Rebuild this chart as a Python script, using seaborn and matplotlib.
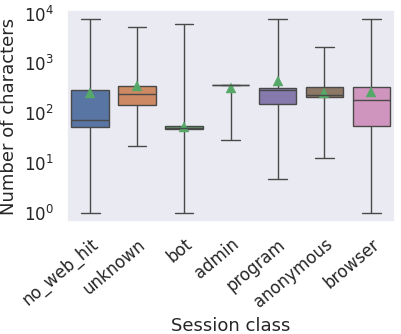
import matplotlib
matplotlib.use("Agg")
import matplotlib.pyplot as plt
import numpy as np
import pandas as pd
import seaborn as sns

# Box statistics (characters per session)
classes = ["no_web_hit", "unknown", "bot", "admin", "program", "anonymous", "browser"]
lowest = [1, 22, 1, 29, 4.9, 12.8, 1]
lower_q = [52, 144, 48, 375, 151, 208, 56]
medians = [74, 246, 51, 375, 293, 236, 185]
upper_q = [295, 350, 55, 375, 324, 340, 340]
highest = [7600, 5250, 6300, 375, 7600, 2150, 7600]
means = [257, 350, 54, 320, 445, 250, 262]

# five points per class -> quartiles land exactly on the read values
rows = []
for i, c in enumerate(classes):
    for v in (lowest[i], lower_q[i], medians[i], upper_q[i], highest[i]):
        rows.append({"Session class": c, "chars": v})
df = pd.DataFrame(rows)

sns.set_theme(style="dark")
plt.rcParams["font.family"] = ["DejaVu Sans"]

fig = plt.figure(figsize=(4.02, 3.34), dpi=100)
ax = fig.add_axes([0.166, 0.335, 0.816, 0.635])

sns.boxplot(data=df, x="Session class", y="chars", hue="Session class",
            order=classes, palette="deep", whis=(0, 100), log_scale=True,
            legend=False, ax=ax)

sns.pointplot(x=classes, y=means, order=classes, linestyle="none", markers="^",
              color=sns.color_palette("deep")[2], markersize=6.5,
              markeredgewidth=0.3, errorbar=None, ax=ax)

ax.set_ylabel("Number of characters", fontsize=13)
ax.set_xlabel("Session class", fontsize=13)
ax.tick_params(axis="both", labelsize=12)
plt.setp(ax.get_xticklabels(), rotation=40, ha="right", rotation_mode="anchor")
ax.set_ylim(10 ** -0.18, 10 ** 4.07)

fig.savefig("out.png", dpi=100)
